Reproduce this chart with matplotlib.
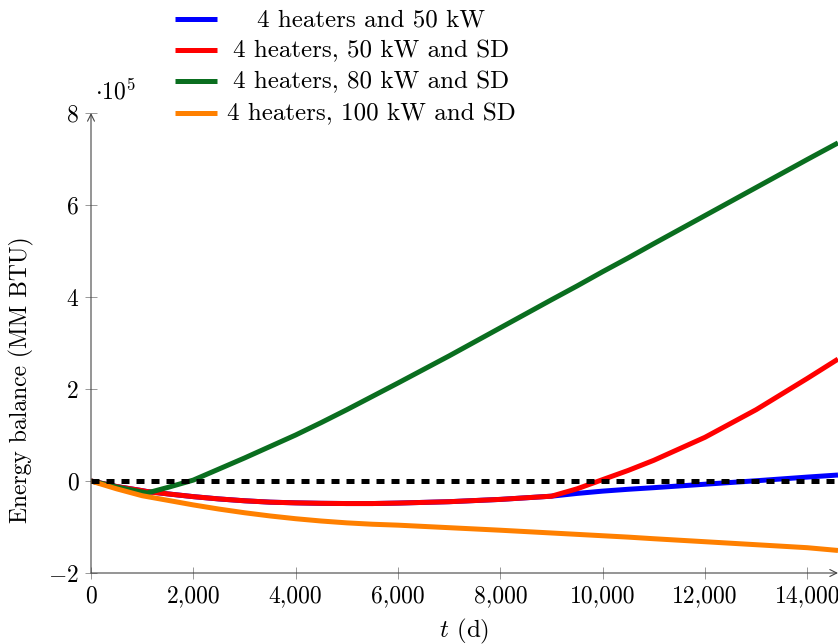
import numpy as np
import matplotlib
matplotlib.use("Agg")
import matplotlib.pyplot as plt
from matplotlib.lines import Line2D
from matplotlib.ticker import FuncFormatter

plt.rcParams['font.family'] = 'serif'
plt.rcParams['font.serif'] = ['cmr10']
plt.rcParams['mathtext.fontset'] = 'cm'
plt.rcParams['axes.formatter.use_mathtext'] = True

# time axis (days) and energy balance curves (x 1e5 MM BTU)
t = [0, 500, 1000, 1100, 1500, 2000, 2500, 3000, 3500, 4000, 4500, 5000, 5500, 6000,
     7000, 8000, 9000, 9500, 10000, 10500, 11000, 12000, 13000, 14000, 14600]

heaters_50 = [0, -0.12, -0.21, -0.23, -0.28, -0.34, -0.39, -0.43, -0.46, -0.475, -0.485, -0.49,
              -0.49, -0.48, -0.45, -0.40, -0.33, -0.27, -0.22, -0.18, -0.145, -0.07, 0.005, 0.085, 0.13]
heaters_50_sd = [0, -0.12, -0.21, -0.23, -0.28, -0.34, -0.39, -0.43, -0.46, -0.475, -0.485, -0.49,
                 -0.49, -0.48, -0.45, -0.40, -0.33, -0.17, 0.03, 0.23, 0.45, 0.95, 1.55, 2.23, 2.65]
heaters_80_sd = [0, -0.13, -0.24, -0.26, -0.14, 0.02, 0.26, 0.50, 0.75, 1.00, 1.27, 1.55,
                 1.84, 2.13, 2.72, 3.33, 3.94, 4.24, 4.55, 4.85, 5.16, 5.77, 6.38, 6.99, 7.35]
heaters_100_sd = [0, -0.17, -0.32, -0.34, -0.42, -0.52, -0.61, -0.69, -0.76, -0.82, -0.87, -0.91,
                  -0.94, -0.96, -1.015, -1.07, -1.13, -1.16, -1.19, -1.22, -1.255, -1.32, -1.385, -1.45, -1.51]

labels = ['4 heaters and 50 kW', '4 heaters, 50 kW and SD',
          '4 heaters, 80 kW and SD', '4 heaters, 100 kW and SD']
colors = ['#0000ff', '#ff0000', '#0a6e1f', '#ff8000']
series = [heaters_50, heaters_50_sd, heaters_80_sd, heaters_100_sd]

W, H = 838, 644
fig = plt.figure(figsize=(W / 100, H / 100), dpi=100)
ax = fig.add_axes([91 / W, 1 - 573 / H, (838 - 91) / W, (573 - 113) / H])

lw = 3.6
for ys, c in zip(series, colors):
    ax.plot(t, ys, color=c, lw=lw, solid_capstyle='butt', solid_joinstyle='round')
ax.plot([0, 14600], [0, 0], color='black', lw=lw, linestyle=(0, (1.6, 1.4)),
        dash_capstyle='butt')

ax.set_xlim(0, 14600)
ax.set_ylim(-2, 8)
ax.set_xticks(np.arange(0, 14001, 2000))
ax.set_yticks([-2, 0, 2, 4, 6, 8])
ax.xaxis.set_major_formatter(FuncFormatter(lambda v, p: f'{int(v):,}'))
ax.yaxis.set_major_formatter(FuncFormatter(lambda v, p: f'$-{abs(int(v))}$' if v < 0 else f'{int(v)}'))
ax.tick_params(direction='inout', length=8, width=0.6, color='#888888',
               labelsize=17, pad=5)

for s in ax.spines.values():
    s.set_visible(False)
axis_kw = dict(arrowstyle='->,head_length=0.5,head_width=0.25', lw=0.8, color='#444444',
               shrinkA=0, shrinkB=0)
ax.annotate('', xy=(1, 0), xytext=(0, 0), xycoords='axes fraction', arrowprops=axis_kw,
            annotation_clip=False)
ax.annotate('', xy=(0, 1), xytext=(0, 0), xycoords='axes fraction', arrowprops=axis_kw,
            annotation_clip=False)

fig.text(464 / W, 1 - 637 / H, r'$t$ (d)', ha='center', va='baseline', fontsize=18)
fig.text(21 / W, 1 - 380 / H, 'Energy balance (MM BTU)', ha='center', va='center',
         rotation=90, fontsize=17)
fig.text(95 / W, 1 - 99 / H, r'$\cdot 10^5$', ha='left', va='baseline', fontsize=17)

# legend drawn by hand, text centred in its column
rows = [19, 50, 81, 113]
for y, lab, c in zip(rows, labels, colors):
    fig.add_artist(Line2D([175 / W, 217 / W], [1 - y / H, 1 - y / H], color=c, lw=lw,
                          solid_capstyle='butt'))
    fig.text(371 / W, 1 - (y + 7.5) / H, lab, ha='center', va='baseline', fontsize=18)

fig.savefig('out.png', dpi=100)
